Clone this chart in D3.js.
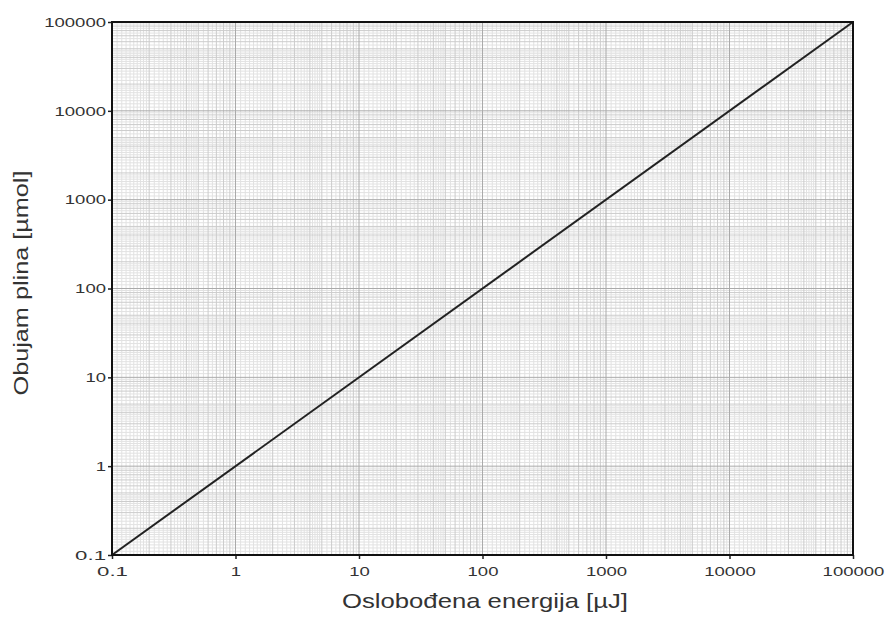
<!DOCTYPE html>
<html><head><meta charset="utf-8">
<script src="https://cdn.jsdelivr.net/npm/d3@7"></script>
<style>body{margin:0;background:#fff;} svg{display:block;}</style>
</head><body>
<svg id="c" width="888" height="640"></svg>
<script>
const tickValues = [0.1, 1, 10, 100, 1000, 10000, 100000];
const tickLabels = ["0.1", "1", "10", "100", "1000", "10000", "100000"];
const lineX = [0.1, 100000];
const lineY = [0.1, 100000];
const xTitle = "Oslobođena energija [\u00b5J]";
const yTitle = "Obujam plina [\u00b5mol]";

const svg = d3.select("#c");
const m = {l:112, r:853, t:22, b:555};
const x = d3.scaleLog().domain([0.1, 100000]).range([m.l, m.r]);
const y = d3.scaleLog().domain([0.1, 100000]).range([m.b, m.t]);
const FONT = "Liberation Sans, Arial, sans-serif";

// grid values
const fine = [], mid = [];
for (let e = -1; e < 5; e++) {
  const b = Math.pow(10, e);
  for (let v = 1.1; v < 2; v += 0.1) fine.push(+(v*b).toPrecision(4));
  for (let v = 2.2; v < 5; v += 0.2) if (Math.abs(v - Math.round(v)) > 0.01) fine.push(+(v*b).toPrecision(4));
  for (let v = 5.5; v < 10; v += 1) fine.push(+(v*b).toPrecision(4));
  for (let v = 2; v <= 9; v++) mid.push(+(v*b).toPrecision(4));
}
const g = svg.append("g");
function grid(vals, color, w) {
  g.selectAll(null).data(vals).enter().append("line")
    .attr("x1", d => x(d)).attr("x2", d => x(d)).attr("y1", m.t).attr("y2", m.b)
    .attr("stroke", color).attr("stroke-width", w);
  g.selectAll(null).data(vals).enter().append("line")
    .attr("y1", d => y(d)).attr("y2", d => y(d)).attr("x1", m.l).attr("x2", m.r)
    .attr("stroke", color).attr("stroke-width", w);
}
grid(fine, "#e2e2e2", 1);
grid(mid, "#cccccc", 1);
grid(tickValues, "#aaaaaa", 1);

// axes
const xAxis = d3.axisBottom(x).tickValues(tickValues).tickFormat((d,i) => tickLabels[i]).tickSize(4).tickPadding(5);
const yAxis = d3.axisLeft(y).tickValues(tickValues).tickFormat((d,i) => tickLabels[i]).tickSize(4).tickPadding(2);
const ax = svg.append("g").attr("transform", `translate(0,${m.b})`).call(xAxis);
const ay = svg.append("g").attr("transform", `translate(${m.l},0)`).call(yAxis);
[ax, ay].forEach(a => {
  a.select(".domain").remove();
  a.selectAll(".tick line").attr("stroke", "#222").attr("stroke-width", 1.5);
  a.selectAll("text").attr("font-family", FONT).attr("font-size", 13).attr("fill", "#333")
    .attr("textLength", (d,i) => tickLabels[i].length * 10.3).attr("lengthAdjust", "spacingAndGlyphs");
});
ax.selectAll("text").attr("dy", "0.95em");

// line
svg.append("path")
  .attr("d", d3.line().x(d => x(d[0])).y(d => y(d[1]))(lineX.map((v,i) => [v, lineY[i]])))
  .attr("stroke", "#222").attr("stroke-width", 2).attr("fill", "none");

// frame
svg.append("rect").attr("x", m.l).attr("y", m.t).attr("width", m.r - m.l).attr("height", m.b - m.t)
  .attr("fill", "none").attr("stroke", "#111").attr("stroke-width", 2);

// titles
svg.append("text").attr("x", 485).attr("y", 608).attr("text-anchor", "middle")
  .attr("font-family", FONT).attr("font-size", 21).attr("fill", "#333")
  .attr("textLength", 286).attr("lengthAdjust", "spacingAndGlyphs").text(xTitle);
svg.append("text").attr("transform", "translate(28,283) rotate(-90)").attr("text-anchor", "middle")
  .attr("font-family", FONT).attr("font-size", 21).attr("fill", "#333")
  .attr("textLength", 225).attr("lengthAdjust", "spacingAndGlyphs").text(yTitle);
</script>
</body></html>
